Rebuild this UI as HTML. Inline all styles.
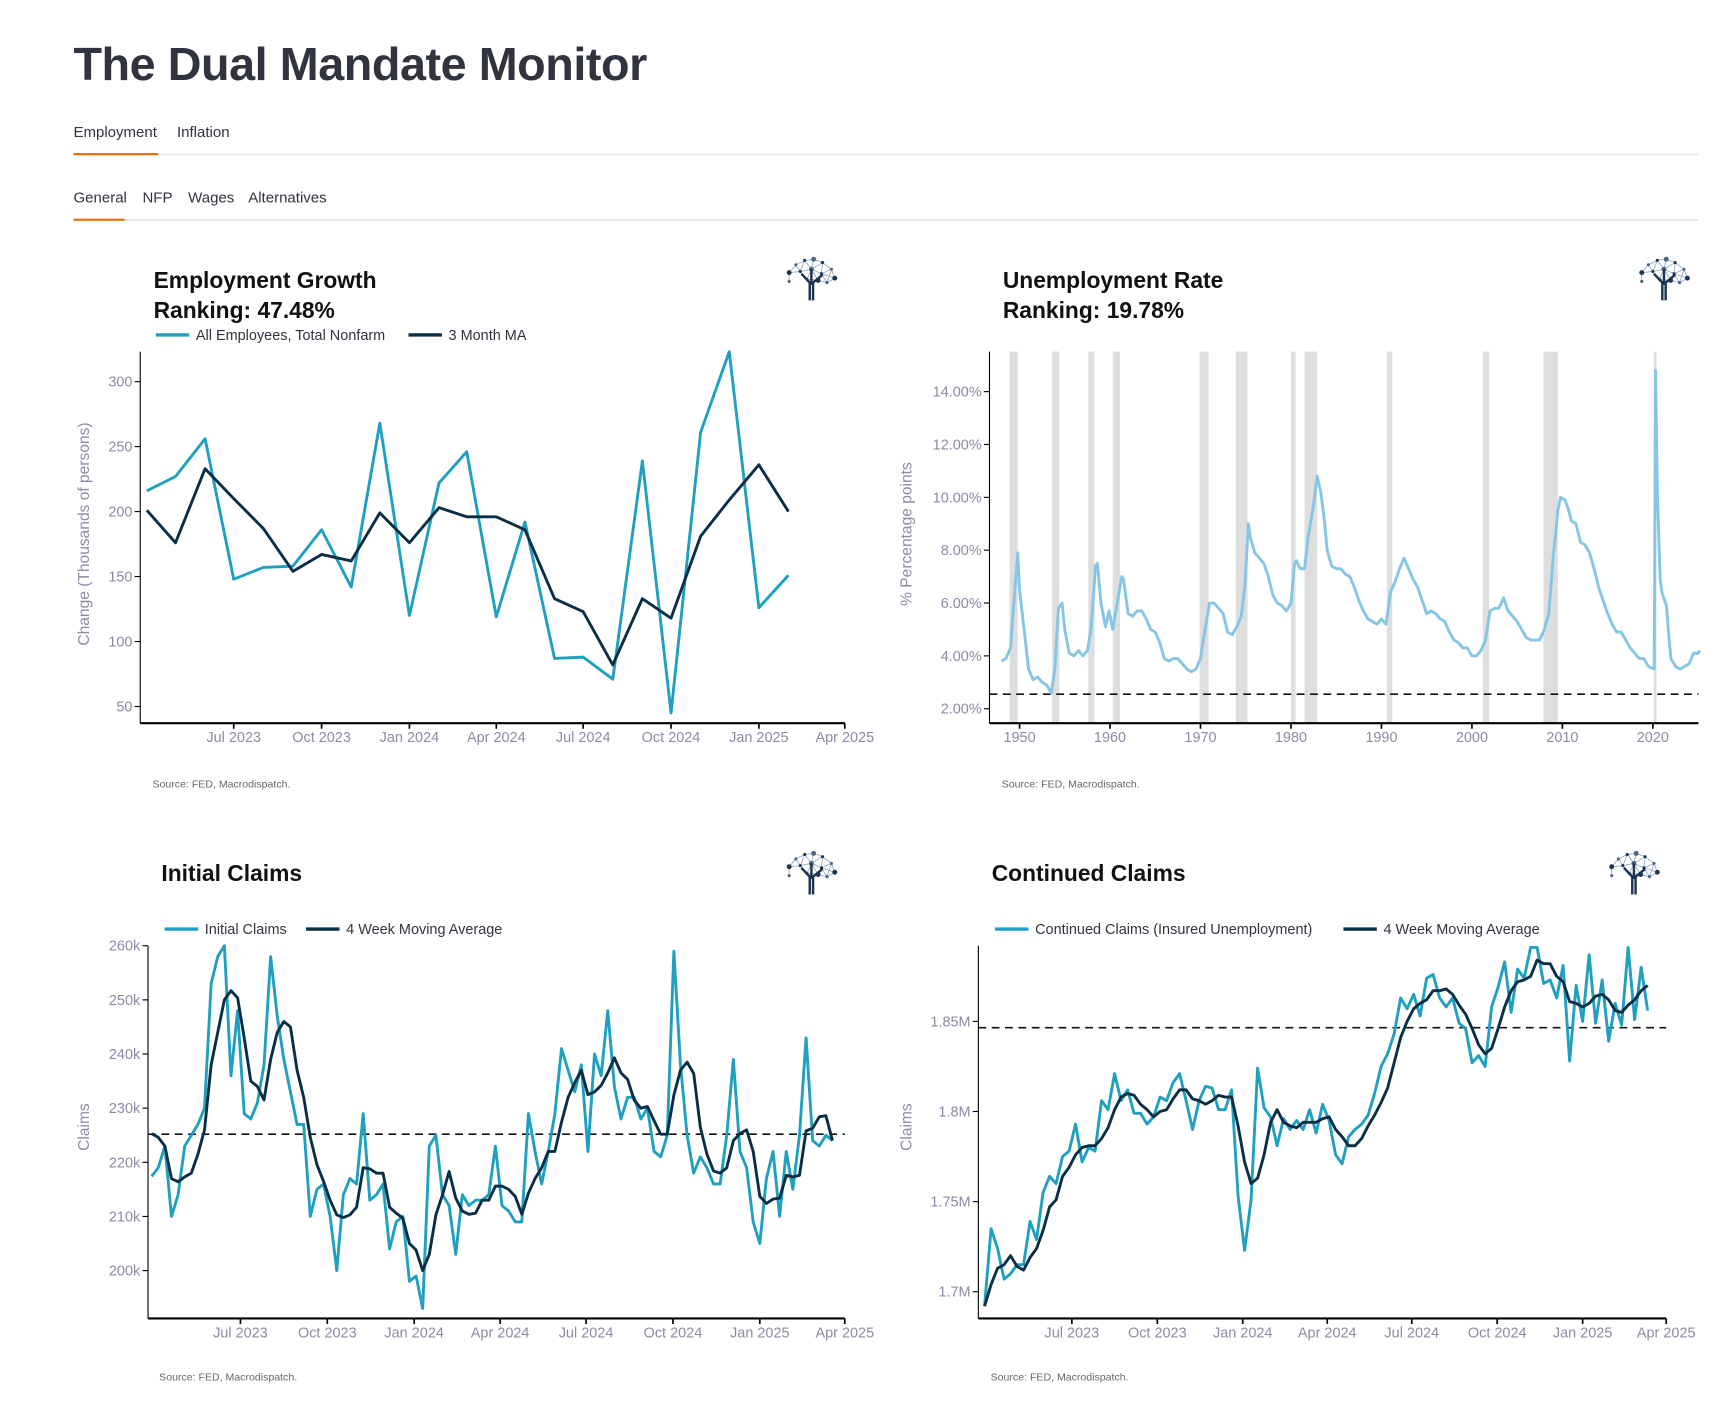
<!DOCTYPE html>
<html><head><meta charset="utf-8">
<style>
html,body{margin:0;padding:0;background:#fff;}
svg{display:block;}
text{font-family:"Liberation Sans","DejaVu Sans",sans-serif;}
</style></head>
<body>
<svg id="page" width="1733" height="1403" viewBox="0 0 1557 1261" preserveAspectRatio="none" xmlns="http://www.w3.org/2000/svg">
<text x="66" y="72" font-size="42" font-weight="bold" fill="#31333f" letter-spacing="-0.4">The Dual Mandate Monitor</text>
<g font-size="13.5" fill="#31333f">
<text x="66" y="123">Employment</text>
<text x="159" y="123">Inflation</text>
<rect x="66" y="138" width="1460" height="1.5" fill="#e6e6ea"/>
<rect x="66" y="137.5" width="76" height="2" fill="#e8700f"/>
</g>
<g font-size="13.5" fill="#31333f">
<text x="66" y="182">General</text>
<text x="128" y="182">NFP</text>
<text x="169" y="182">Wages</text>
<text x="223" y="182">Alternatives</text>
<rect x="66" y="197" width="1460" height="1.5" fill="#e6e6ea"/>
<rect x="66" y="196.5" width="46" height="2" fill="#e8700f"/>
</g>
<g id="charts"></g>
</svg>
<script>
// ---------- Employment growth (monthly, Apr 2023 .. Feb 2025) ----------
var empStart = [2023, 3]; // first month (0-based month index)
var empNonfarm = [216,227,256,148,157,158,186,142,268,120,222,246,119,192,87,88,71,239,45,261,323,126,151];
var empMA = [201,176,233,210,187,154,167,162,199,176,203,196,196,186,133,123,82,133,118,181,209,236,200];
var empYTicks = [50,100,150,200,250,300];
var empXTicks = ["2023-07-01","2023-10-01","2024-01-01","2024-04-01","2024-07-01","2024-10-01","2025-01-01","2025-04-01"];
var empXLabels = ["Jul 2023","Oct 2023","Jan 2024","Apr 2024","Jul 2024","Oct 2024","Jan 2025","Apr 2025"];

// ---------- Unemployment rate ----------
var unYears = [1948.0,1948.5,1949.0,1949.5,1949.8,1950.0,1950.5,1951.0,1951.5,1952.0,1952.5,1953.0,1953.5,1953.9,1954.3,1954.7,1955.0,1955.5,1956.0,1956.5,1957.0,1957.5,1957.9,1958.4,1958.6,1959.0,1959.5,1959.9,1960.3,1960.8,1961.3,1961.5,1962.0,1962.5,1963.0,1963.5,1964.0,1964.5,1965.0,1965.5,1966.0,1966.5,1967.0,1967.5,1968.0,1968.5,1969.0,1969.5,1970.0,1970.5,1971.0,1971.5,1972.0,1972.5,1973.0,1973.5,1974.0,1974.5,1974.9,1975.3,1975.5,1976.0,1976.5,1977.0,1977.5,1978.0,1978.5,1979.0,1979.5,1980.0,1980.4,1980.6,1981.0,1981.5,1981.9,1982.5,1982.9,1983.3,1983.7,1984.0,1984.5,1985.0,1985.5,1986.0,1986.5,1987.0,1987.5,1988.0,1988.5,1989.0,1989.5,1990.0,1990.5,1991.0,1991.5,1992.0,1992.5,1993.0,1993.5,1994.0,1994.5,1995.0,1995.5,1996.0,1996.5,1997.0,1997.5,1998.0,1998.5,1999.0,1999.5,2000.0,2000.5,2001.0,2001.5,2002.0,2002.5,2003.0,2003.5,2004.0,2004.5,2005.0,2005.5,2006.0,2006.5,2007.0,2007.5,2008.0,2008.5,2009.0,2009.5,2009.8,2010.3,2010.7,2011.0,2011.5,2012.0,2012.5,2013.0,2013.5,2014.0,2014.5,2015.0,2015.5,2016.0,2016.5,2017.0,2017.5,2018.0,2018.5,2019.0,2019.5,2020.15,2020.3,2020.5,2020.8,2021.0,2021.5,2021.8,2022.0,2022.5,2023.0,2023.5,2024.0,2024.5,2025.0,2025.2];
var unRates = [3.8,3.9,4.3,6.6,7.9,6.5,5.0,3.5,3.1,3.2,3.0,2.9,2.6,3.5,5.8,6.0,5.0,4.1,4.0,4.2,4.0,4.2,5.0,7.4,7.5,6.0,5.1,5.7,5.0,6.0,7.0,6.9,5.6,5.5,5.7,5.7,5.4,5.0,4.9,4.5,3.9,3.8,3.9,3.9,3.7,3.5,3.4,3.5,3.9,5.0,6.0,6.0,5.8,5.6,4.9,4.8,5.1,5.5,6.6,9.0,8.5,7.9,7.7,7.5,7.0,6.3,6.0,5.9,5.7,6.0,7.5,7.6,7.3,7.3,8.5,9.7,10.8,10.2,9.1,8.0,7.4,7.3,7.3,7.1,7.0,6.6,6.1,5.7,5.4,5.3,5.2,5.4,5.2,6.4,6.8,7.3,7.7,7.3,6.9,6.6,6.1,5.6,5.7,5.6,5.4,5.3,4.9,4.6,4.5,4.3,4.3,4.0,4.0,4.2,4.6,5.7,5.8,5.8,6.2,5.7,5.5,5.3,5.0,4.7,4.6,4.6,4.6,5.0,5.6,7.8,9.5,10.0,9.9,9.5,9.1,9.0,8.3,8.2,7.9,7.3,6.6,6.1,5.6,5.2,4.9,4.9,4.6,4.3,4.1,3.9,3.9,3.6,3.5,14.8,10.2,6.9,6.4,5.9,4.6,3.9,3.6,3.5,3.6,3.7,4.1,4.1,4.2];
var recStarts = [1948.9,1953.6,1957.6,1960.3,1969.9,1973.9,1980.0,1981.5,1990.6,2001.2,2007.9,2020.1];
var recEnds   = [1949.8,1954.4,1958.3,1961.1,1970.9,1975.2,1980.5,1982.9,1991.2,2001.9,2009.5,2020.3];
var unTarget = [2.55];
var unYTicks = [2,4,6,8,10,12,14];
var unXTicks = [1950,1960,1970,1980,1990,2000,2010,2020];

// ---------- Initial claims (weekly, thousands) ----------
var icStart = "2023-03-29";
var icClaims = [217.4,219,223,210,214,223,225,227,230,253,258,260,236,248,229,228,231,238,258,247,239,233,227,227,210,215,216,210,200,214,217,216,229,213,214,216,204,209,210,198,199,193,223,225,214,212,203,214,212,213,213,214,223,212,211,209,209,229,222,216,222,229,241,237,233,238,222,240,236,248,234,228,232,232,228,230,222,221,225,259,238,225,218,221,219,216,216,225,239,222,219,209,205,217,222,210,222,215,225,243,224,223,225,224];
var icMA = [225.3,224.6,223,217,216.4,217.3,218,221.5,226,238,244,250,251.7,250.4,243,235,234,231.5,239,244,246,245,237,232,224.6,219.6,216.5,213,210.3,209.8,210.3,211.7,219,218.8,218,218,211.7,210.6,209.7,205,203.8,200,203,210.3,214,218.3,213.4,211,210.4,210.6,213,213,215.6,215.6,215,213.7,210.4,214.3,217,219,222,222,227.4,232,234.7,237,232.5,233,234.2,236.5,239.3,236.5,235.3,231.5,230,230.3,227.7,225.2,225.2,232.4,237,238.5,236.4,226.5,221.5,218.4,218,219,224,225.3,226,222,213.7,212.4,213.2,213.4,217.6,217.3,217.6,225.8,226.3,228.4,228.6,224];
var icTarget = [225.2];
var icYTicks = [200,210,220,230,240,250,260];

// ---------- Continued claims (weekly, thousands) ----------
var ccStart = "2023-03-29";
var ccClaims = [1692,1735,1724,1707,1710,1715,1715,1739,1729,1755,1764,1760,1775,1778,1793,1772,1780,1778,1806,1801,1821,1806,1812,1799,1799,1793,1797,1808,1806,1816,1821,1806,1790,1806,1814,1813,1801,1801,1812,1753,1723,1751,1824,1802,1797,1781,1796,1790,1795,1790,1801,1788,1804,1795,1776,1771,1786,1790,1793,1798,1810,1825,1832,1843,1863,1857,1865,1853,1874,1876,1863,1858,1863,1849,1846,1827,1831,1825,1858,1869,1883,1855,1879,1874,1891,1891,1871,1873,1863,1881,1828,1870,1850,1887,1849,1873,1839,1860,1848,1891,1851,1880,1856];
var ccMA = [1692,1704,1713,1715,1720,1714,1712,1719,1724,1734,1747,1751,1764,1769,1776,1780,1781,1781,1785,1791,1801,1808,1810,1809,1804,1801,1797,1800,1801,1807,1812,1812,1807,1806,1804,1806,1809,1808,1808,1792,1772,1760,1763,1776,1794,1801,1794,1792,1791,1794,1794,1794,1796,1797,1790,1786,1781,1781,1785,1792,1798,1805,1813,1827,1841,1850,1857,1860,1862,1867,1867,1868,1865,1859,1854,1846,1837,1832,1835,1846,1858,1867,1872,1873,1875,1884,1882,1882,1875,1872,1861,1860,1858,1860,1864,1865,1862,1856,1855,1859,1862,1867,1870];
var ccTarget = [1846.5];
var ccYTicks = [1700,1750,1800,1850];
var ccYLabels = ["1.7M","1.75M","1.8M","1.85M"];

var claimXTicks = empXTicks, claimXLabels = empXLabels;

var NS = "http://www.w3.org/2000/svg";
var root = document.getElementById("charts");
function mk(tag, attrs, parent, txt){
  var e = document.createElementNS(NS, tag);
  for (var k in attrs) e.setAttribute(k, attrs[k]);
  if (txt !== undefined) e.textContent = txt;
  (parent || root).appendChild(e);
  return e;
}
function day(s){ return Date.parse(s + "T00:00:00Z") / 86400000; }
function lin(d0, d1, r0, r1){ return function(v){ return r0 + (v - d0) / (d1 - d0) * (r1 - r0); }; }
var TEAL = "#1fa0bf", DARK = "#0b2e47", TICKC = "#8b8ca3";

function linePath(xs, ys, color, width, name, parent){
  var d = "";
  for (var i = 0; i < xs.length; i++) d += (i ? "L" : "M") + xs[i].toFixed(2) + "," + ys[i].toFixed(2);
  var p = mk("path", {d: d, fill: "none", stroke: color, "stroke-width": width, "stroke-linejoin": "round"}, parent);
  
  
  return p;
}
function logo(cx, cy, name){
  var g = mk("g", {});
  
  
  var pts = [[-20,-3],[-14,-10],[-6,-14],[2,-15],[10,-12],[18,-6],[21,2],[-20,5],[-10,-4],[0,-6],[9,-2],[-4,3],[6,4],[14,6]];
  for (var i = 0; i < pts.length; i++) for (var j = i+1; j < pts.length; j++) {
    var dx = pts[i][0]-pts[j][0], dy = pts[i][1]-pts[j][1];
    if (dx*dx+dy*dy < 170) mk("line", {x1:cx+pts[i][0], y1:cy+pts[i][1], x2:cx+pts[j][0], y2:cy+pts[j][1], stroke:"#8aa0b8", "stroke-width":0.7}, g);
  }
  for (var k = 0; k < pts.length; k++) mk("circle", {cx:cx+pts[k][0], cy:cy+pts[k][1], r:(k%3==0?2.2:1.4), fill:(k%2?"#4a6684":"#1d3550")}, g);
  mk("path", {d:"M"+(cx-1.5)+","+(cy+22)+"L"+(cx-1.5)+","+(cy+6)+"L"+(cx-9)+","+(cy-2)+"M"+(cx+1.5)+","+(cy+22)+"L"+(cx+1.5)+","+(cy+6)+"L"+(cx+10)+","+(cy-1)+"M"+cx+","+(cy+8)+"L"+cx+","+(cy-6), stroke:"#1d3550", "stroke-width":2.2, fill:"none"}, g);
}
function txt(x, y, s, attrs, name){
  var a = {x:x, y:y};
  for (var k in attrs) a[k] = attrs[k];
  var t = mk("text", a, undefined, s);
  
  
  return t;
}
function legendEntry(x, y, color, label, name){
  var g = mk("g", {});
  
  
  mk("line", {x1:x, y1:y, x2:x+30, y2:y, stroke:color, "stroke-width":3}, g);
  mk("text", {x:x+36, y:y+4.5, "font-size":13, fill:"#31333f"}, g, label);
}
function axes(L, R, T, B, name){
  var g = mk("g", {});
  
  
  mk("line", {x1:L, y1:T, x2:L, y2:B, stroke:"#000", "stroke-width":1}, g);
  mk("line", {x1:L, y1:B, x2:R, y2:B, stroke:"#000", "stroke-width":2}, g);
  return g;
}
function yTicks(g, L, ticks, labels, ys){
  for (var i = 0; i < ticks.length; i++) {
    var y = ys(ticks[i]);
    mk("line", {x1:L-5, y1:y, x2:L, y2:y, stroke:"#000", "stroke-width":1}, g);
    var t = mk("text", {x:L-7, y:y+4.5, "font-size":13, fill:TICKC, "text-anchor":"end"}, g, labels[i]);
    
    
  }
}
function xTicks(g, B, vals, labels, xs){
  for (var i = 0; i < vals.length; i++) {
    var x = xs(vals[i]);
    mk("line", {x1:x, y1:B, x2:x, y2:B+5, stroke:"#000", "stroke-width":1.5}, g);
    var t = mk("text", {x:x, y:B+17, "font-size":13, fill:TICKC, "text-anchor":"middle"}, g, labels[i]);
    
    
  }
}
function dashed(L, R, y, name){
  var l = mk("line", {x1:L, y1:y, x2:R, y2:y, stroke:"#111", "stroke-width":1.5, "stroke-dasharray":"7,5"});
  
  
}
function yTitle(x, y, s, name){
  txt(x, y, s, {"font-size":14, fill:TICKC, transform:"rotate(-90 "+x+" "+y+")", "text-anchor":"middle", "font-family":"DejaVu Sans, sans-serif"}, name);
}
var TITLE = {"font-size":20.5, "font-weight":"bold", fill:"#111", "font-family":"DejaVu Sans, sans-serif"};
var SRC = {"font-size":9.5, fill:"#666", "font-family":"DejaVu Sans, sans-serif"};

// ===== Chart 1: Employment Growth =====
(function(){
  var L=126,R=759,T=316,B=650;
  var xs = lin(day("2023-07-01"), day("2025-04-01"), 210, 759);
  var ys = lin(50, 300, 635, 343);
  txt(138, 259, "Employment Growth", TITLE, "employment-chart-title");
  txt(138, 286, "Ranking: 47.48%", TITLE, "employment-ranking");
  logo(729, 248, "employment-logo");
  legendEntry(140, 301, TEAL, "All Employees, Total Nonfarm", "legend-nonfarm");
  legendEntry(367, 301, DARK, "3 Month MA", "legend-3m-ma");
  var g = axes(L,R,T,B,"employment-axes");
  yTicks(g, L, empYTicks, empYTicks.map(String), ys);
  xTicks(g, B, empXTicks.map(day), empXLabels, xs);
  var px = empNonfarm.map(function(_, i){ var d = new Date(Date.UTC(empStart[0], empStart[1]+i, 1)); return xs(d.getTime()/86400000); });
  linePath(px, empNonfarm.map(ys), TEAL, 2.6, "nonfarm-line");
  linePath(px, empMA.map(ys), DARK, 2.6, "nonfarm-3m-ma-line");
  yTitle(80, 480, "Change (Thousands of persons)", "employment-y-axis-title");
  txt(137, 708, "Source: FED, Macrodispatch.", SRC, "employment-source");
})();

// ===== Chart 2: Unemployment Rate =====
(function(){
  var L=889,R=1526,T=316,B=650;
  var xs = lin(1950, 2020, 916, 1485);
  var ys = lin(2, 14, 637, 352);
  txt(901, 259, "Unemployment Rate", TITLE, "unemployment-chart-title");
  txt(901, 286, "Ranking: 19.78%", TITLE, "unemployment-ranking");
  logo(1495, 248, "unemployment-logo");
  for (var i = 0; i < recStarts.length; i++) {
    var r = mk("rect", {x:xs(recStarts[i]), y:T, width:Math.max(2.5, xs(recEnds[i])-xs(recStarts[i])), height:B-T, fill:"#dedede"});
    
    
  }
  var g = axes(L,R,T,B,"unemployment-axes");
  yTicks(g, L, unYTicks, unYTicks.map(function(v){ return v.toFixed(2)+"%"; }), ys);
  xTicks(g, B, unXTicks, unXTicks.map(String), xs);
  dashed(L, R, ys(unTarget[0]), "unemployment-target-line");
  linePath(unYears.map(xs), unRates.map(ys), "#86c6e4", 2.6, "unemployment-rate-line");
  yTitle(819, 480, "% Percentage points", "unemployment-y-axis-title");
  txt(900, 708, "Source: FED, Macrodispatch.", SRC, "unemployment-source");
})();

// ===== Chart 3: Initial Claims =====
(function(){
  var L=133,R=759,T=850,B=1185;
  var xs = lin(day("2023-07-01"), day("2025-04-01"), 216, 759);
  var ys = lin(200, 260, 1142, 850);
  txt(145, 792, "Initial Claims", TITLE, "initial-claims-title");
  logo(729, 782, "initial-claims-logo");
  legendEntry(148, 835, TEAL, "Initial Claims", "legend-initial-claims");
  legendEntry(275, 835, DARK, "4 Week Moving Average", "legend-initial-4w-ma");
  var g = axes(L,R,T,B,"initial-claims-axes");
  yTicks(g, L, icYTicks, icYTicks.map(function(v){ return v+"k"; }), ys);
  xTicks(g, B, claimXTicks.map(day), claimXLabels, xs);
  dashed(L, R, ys(icTarget[0]), "initial-claims-target-line");
  var s = day(icStart);
  var px = icClaims.map(function(_, i){ return xs(s + 7*i); });
  linePath(px, icClaims.map(ys), TEAL, 2.6, "initial-claims-line");
  linePath(icMA.map(function(_, i){ return xs(s + 7*i); }), icMA.map(ys), DARK, 2.6, "initial-claims-ma-line");
  yTitle(80, 1013, "Claims", "initial-claims-y-axis-title");
  txt(143, 1241, "Source: FED, Macrodispatch.", SRC, "initial-claims-source");
})();

// ===== Chart 4: Continued Claims =====
(function(){
  var L=879,R=1497,T=850,B=1185;
  var xs = lin(day("2023-07-01"), day("2025-04-01"), 963, 1497);
  var ys = lin(1700, 1850, 1161, 918);
  txt(891, 792, "Continued Claims", TITLE, "continued-claims-title");
  logo(1468, 782, "continued-claims-logo");
  legendEntry(894, 835, TEAL, "Continued Claims (Insured Unemployment)", "legend-continued-claims");
  legendEntry(1207, 835, DARK, "4 Week Moving Average", "legend-continued-4w-ma");
  var g = axes(L,R,T,B,"continued-claims-axes");
  yTicks(g, L, ccYTicks, ccYLabels, ys);
  xTicks(g, B, claimXTicks.map(day), claimXLabels, xs);
  dashed(L, R, ys(ccTarget[0]), "continued-claims-target-line");
  var s = day(ccStart);
  linePath(ccClaims.map(function(_, i){ return xs(s + 7*i); }), ccClaims.map(ys), TEAL, 2.6, "continued-claims-line");
  linePath(ccMA.map(function(_, i){ return xs(s + 7*i); }), ccMA.map(ys), DARK, 2.6, "continued-claims-ma-line");
  yTitle(819, 1013, "Claims", "continued-claims-y-axis-title");
  txt(890, 1241, "Source: FED, Macrodispatch.", SRC, "continued-claims-source");
})();
</script>
</body></html>
